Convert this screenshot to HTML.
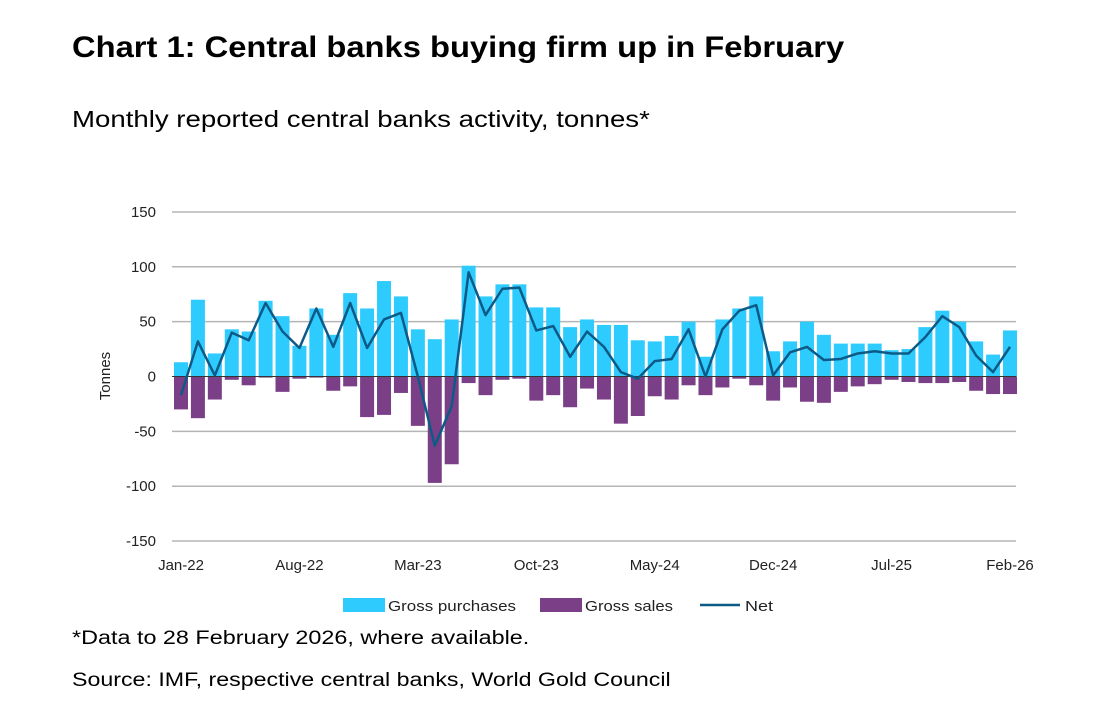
<!DOCTYPE html>
<html><head><meta charset="utf-8"><style>
body{margin:0;background:#fff;font-family:"Liberation Sans",sans-serif;}
#wrap{position:relative;width:1100px;height:714px;overflow:hidden;}
.t{position:absolute;white-space:nowrap;color:#000;transform-origin:0 0;}
</style></head><body><div id="wrap">
<div class="t" style="left:72px;top:31px;font-size:30px;font-weight:bold;transform:scaleX(1.09);">Chart 1: Central banks buying firm up in February</div>
<div class="t" style="left:72px;top:106px;font-size:23px;transform:scaleX(1.2);">Monthly reported central banks activity, tonnes*</div>
<svg id="chart" width="1100" height="714" style="position:absolute;left:0;top:0"></svg>
<div class="t" style="left:72px;top:628px;font-size:19px;transform:scaleX(1.23);">*Data to 28 February 2026, where available.</div>
<div class="t" style="left:72px;top:670px;font-size:19px;transform:scaleX(1.22);">Source: IMF, respective central banks, World Gold Council</div>
</div>
<script>
const categories=["Jan-22","Feb-22","Mar-22","Apr-22","May-22","Jun-22","Jul-22","Aug-22","Sep-22","Oct-22","Nov-22","Dec-22","Jan-23","Feb-23","Mar-23","Apr-23","May-23","Jun-23","Jul-23","Aug-23","Sep-23","Oct-23","Nov-23","Dec-23","Jan-24","Feb-24","Mar-24","Apr-24","May-24","Jun-24","Jul-24","Aug-24","Sep-24","Oct-24","Nov-24","Dec-24","Jan-25","Feb-25","Mar-25","Apr-25","May-25","Jun-25","Jul-25","Aug-25","Sep-25","Oct-25","Nov-25","Dec-25","Jan-26","Feb-26"];
const purchases=[13,70,21,43,41,69,55,28,62,38,76,62,87,73,43,34,52,101,73,84,84,63,63,45,52,47,47,33,32,37,50,18,52,62,73,23,32,50,38,30,30,30,24,25,45,60,50,32,20,42];
const sales=[-30,-38,-21,-3,-8,-1,-14,-2,-1,-13,-9,-37,-35,-15,-45,-97,-80,-6,-17,-3,-2,-22,-17,-28,-11,-21,-43,-36,-18,-21,-8,-17,-10,-2,-8,-22,-10,-23,-24,-14,-9,-7,-3,-5,-6,-6,-5,-13,-16,-16];
const net=[-17,32,1,40,33,67,41,26,62,27,67,26,52,58,0,-63,-27,95,56,80,81,42,46,18,41,27,4,-2,14,16,43,0,43,60,65,1,22,27,15,16,21,23,21,21,36,55,45,19,4,27];
const yTicks=[150,100,50,0,-50,-100,-150];
const xTickIdx=[0,7,14,21,28,35,42,49];
const NS="http://www.w3.org/2000/svg",svg=document.getElementById('chart');
const x0=181,step=(1010-181)/49;
const X=i=>x0+i*step, Y=v=>376.5-v*1.097;
function el(t,a,txt){const e=document.createElementNS(NS,t);for(const k in a)e.setAttribute(k,a[k]);if(txt!=null)e.textContent=txt;svg.appendChild(e);return e;}
yTicks.forEach(v=>{
 if(v!==0){const g=el('line',{x1:172,x2:1016,y1:Y(v),y2:Y(v),stroke:'#b5b5b5','stroke-width':1.5});
 
 }
 const t=el('text',{x:156,y:Y(v)+5,'text-anchor':'end','font-size':15,fill:'#222','font-family':'Liberation Sans'},v);
 
 
});
const yt=el('text',{x:110,y:376,'text-anchor':'middle','font-size':15,fill:'#222',transform:'rotate(-90 110 376)'},'Tonnes');


purchases.forEach((v,i)=>{const r=el('rect',{x:X(i)-7,y:Y(v),width:14,height:Y(0)-Y(v),fill:'#2ecbff'});
 
 });
sales.forEach((v,i)=>{const r=el('rect',{x:X(i)-7,y:Y(0),width:14,height:Y(v)-Y(0),fill:'#7a3f87'});
 
 });
const z=el('line',{x1:172,x2:1016,y1:Y(0),y2:Y(0),stroke:'#333','stroke-width':1});


const p=el('polyline',{points:net.map((v,i)=>X(i)+','+Y(v)).join(' '),fill:'none',stroke:'#0e5a86','stroke-width':2.5,'stroke-linejoin':'round'});


xTickIdx.forEach(i=>{const t=el('text',{x:X(i),y:570,'text-anchor':'middle','font-size':15,fill:'#222'},categories[i]);
 
 });
const lg=[['rect','#2ecbff','Gross purchases',343,128],['rect','#7a3f87','Gross sales',540,88],['line','#0e5a86','Net',700,28]];
lg.forEach(([k,c,txt,x,w])=>{
 let m;
 if(k==='rect')m=el('rect',{x:x,y:598,width:42,height:14,fill:c});
 else m=el('line',{x1:x,x2:x+40,y1:605,y2:605,stroke:c,'stroke-width':2.5});
 
 
 const t=el('text',{x:x+45,y:611,'font-size':15,fill:'#222',textLength:w,lengthAdjust:'spacingAndGlyphs'},txt);
 
 
});
</script></body></html>
